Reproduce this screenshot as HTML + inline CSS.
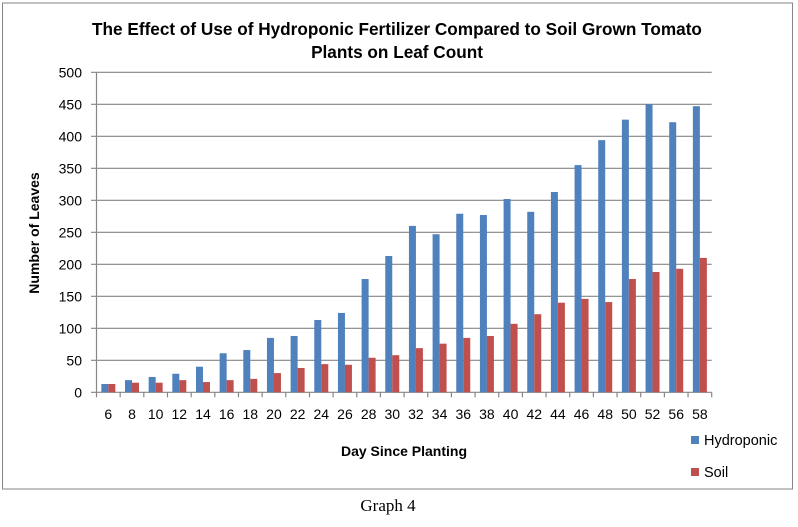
<!DOCTYPE html>
<html><head><meta charset="utf-8"><style>
body{margin:0;background:#fff;width:798px;height:522px;overflow:hidden}
svg text{font-family:"Liberation Sans",sans-serif}
</style></head><body>
<svg width="798" height="522">
<rect x="2.5" y="3" width="790" height="486" fill="#fff" stroke="#868686"/>
<text x="397" y="35" text-anchor="middle" font-size="17.2" font-weight="bold">The Effect of Use of Hydroponic Fertilizer Compared to Soil Grown Tomato</text>
<text x="397" y="58" text-anchor="middle" font-size="17.2" font-weight="bold">Plants on Leaf Count</text>
<g id="grid"></g><g id="bars"></g><g id="axes"></g>
<text transform="translate(39,233) rotate(-90)" text-anchor="middle" font-size="14" font-weight="bold">Number of Leaves</text>
<text x="404" y="456" text-anchor="middle" font-size="14" font-weight="bold">Day Since Planting</text>
<rect x="691" y="436" width="8" height="8" fill="#4f81bd"/>
<text x="704" y="445" font-size="14.5">Hydroponic</text>
<rect x="691" y="468" width="8" height="8" fill="#c0504d"/>
<text x="704" y="477" font-size="14.5">Soil</text>
<text x="388" y="511" text-anchor="middle" font-size="17" style="font-family:'Liberation Serif',serif">Graph 4</text>
</svg>
<script>
const categories=[6,8,10,12,14,16,18,20,22,24,26,28,30,32,34,36,38,40,42,44,46,48,50,52,56,58];
const hydroponic=[13,19,24,29,40,61,66,85,88,113,124,177,213,260,247,279,277,302,282,313,355,394,426,450,422,447];
const soil=[13,15,15,19,16,19,21,30,38,44,43,54,58,69,76,85,88,107,122,140,146,141,177,188,193,210];
const yTicks=[0,50,100,150,200,250,300,350,400,450,500];
const NS="http://www.w3.org/2000/svg";
const L=96.5,R=711.7,Y0=392.3,Y1=72.3;
const band=(R-L)/categories.length;
const y=v=>Y0-(v/500)*(Y0-Y1);
const xc=i=>L+band*(i+0.5);
function mk(t,a,p){const e=document.createElementNS(NS,t);for(const k in a)e.setAttribute(k,a[k]);p.appendChild(e);return e;}
const grid=document.getElementById('grid'),bars=document.getElementById('bars'),axes=document.getElementById('axes');
yTicks.forEach(v=>{
  const g=mk('line',{x1:91,x2:R,y1:y(v),y2:y(v),stroke:'#868686','stroke-width':1.2},grid);
  
  
  const t=mk('text',{x:82,y:y(v)+5,'text-anchor':'end','font-size':14},axes);
  t.textContent=v;
  
  
});
mk('line',{x1:L,x2:L,y1:Y1,y2:Y0,stroke:'#868686','stroke-width':1.2},axes);
categories.forEach((c,i)=>{
  const b1=mk('rect',{x:xc(i)-7,y:y(hydroponic[i]),width:7,height:Y0-y(hydroponic[i]),fill:'#4f81bd'},bars);
  
  
  const b2=mk('rect',{x:xc(i),y:y(soil[i]),width:7,height:Y0-y(soil[i]),fill:'#c0504d'},bars);
  
  
  const tk=L+band*(i+1);
  mk('line',{x1:tk,x2:tk,y1:Y0,y2:Y0+5,stroke:'#868686','stroke-width':1.2},axes);
  const t=mk('text',{x:xc(i),y:419,'text-anchor':'middle','font-size':14},axes);
  t.textContent=c;
  
  
});
mk('line',{x1:L,x2:L,y1:Y0,y2:Y0+5,stroke:'#868686','stroke-width':1.2},axes);
</script>
</body></html>
